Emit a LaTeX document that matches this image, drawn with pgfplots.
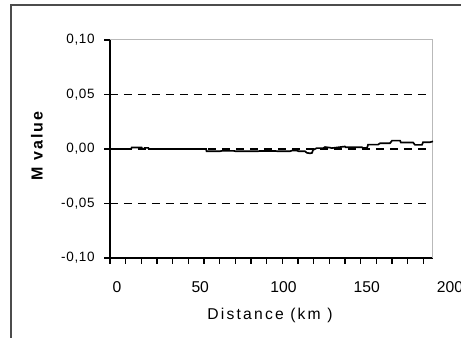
\documentclass[border=0pt]{standalone}
\usepackage{pgfplots}
\pgfplotsset{compat=1.18}
\usepackage{fontspec}
\setmainfont{Liberation Sans}
\begin{document}
\begin{tikzpicture}
\useasboundingbox (0pt,0pt) rectangle (276.6pt,202.8pt);
\draw[line width=1.1pt, black!70] (6.6pt,-10pt) -- (6.6pt,199.8pt) -- (290pt,199.8pt);
\begin{axis}[
  at={(66pt,48pt)}, anchor=south west,
  scale only axis, width=193.8pt, height=130.8pt,
  xmin=-4.2, xmax=189.8, ymin=-0.1, ymax=0.1,
  axis x line*=bottom, axis y line*=left,
  axis line style={black, line width=1.1pt},
  clip=false,
  xtick={-4.2,5.21,14.62,24.03,33.44,42.85,52.26,61.67,71.08,80.49,89.9,99.31,108.72,118.13,127.54,136.95,146.36,155.77,165.18,174.59,184.0},
  xticklabels={},
  ytick={-0.1,-0.05,0,0.05,0.1},
  yticklabels={},
  tick align=outside, major tick length=3.5pt,
  tick style={black, line width=0.8pt},
]
\draw[gray!55, line width=0.6pt] (rel axis cs:0,1) -- (rel axis cs:1,1) -- (rel axis cs:1,0);
\addplot[black, line width=0.8pt, dash pattern=on 4.8pt off 3.6pt] coordinates {(-4.2,0.05) (188,0.05)};
\addplot[black, line width=0.8pt, dash pattern=on 4.8pt off 3.6pt] coordinates {(-4.2,0) (188,0)};
\addplot[black, line width=0.8pt, dash pattern=on 4.8pt off 3.6pt] coordinates {(-4.2,-0.05) (188,-0.05)};
\addplot[black, line width=1pt, mark=none] coordinates {
(-4.2,0) (8.5,0) (8.8,0.0013) (14.8,0.0013) (15.2,0) (16.4,0) (16.6,0.001) (18.8,0.001) (19.1,0)
(53.5,0) (53.8,-0.002) (62,-0.002) (63,-0.0017) (70,-0.0017) (71,-0.002) (85,-0.002) (86,-0.0018) (95,-0.0018) (96,-0.002) (104,-0.002) (105,-0.0015) (108,-0.0015) (109,-0.002) (112.9,-0.002)
(114,-0.0035) (116,-0.004) (117.2,-0.0035) (117.7,-0.001) (119,0) (120,0.0008) (124,0.0008) (124.9,0.0018) (128,0.0012) (129,0.0008) (136.9,0.0023)
(137.2,0.0016) (147.1,0.0016) (147.7,0.001) (150.2,0.001) (150.8,0.004) (156.8,0.004) (158,0.0053) (164,0.0053) (165.2,0.0077) (170,0.0077) (170.5,0.006) (177.8,0.006) (179,0.0038) (183.2,0.0038) (183.8,0.0062) (188,0.0062) (189.8,0.007)
};
\pgfplotsinvokeforeach{0,50,100,150,200}{
  \node[font=\fontsize{9.4}{11}\selectfont, anchor=center, inner sep=0pt] at (axis cs:#1,-0.1) [yshift=-17.4pt] {#1};
}
\node[font=\fontsize{8.1}{9}\selectfont, anchor=east, inner sep=0pt] at (axis cs:-4.2,0.1) [xshift=-9pt] {\addfontfeature{LetterSpace=5}0,10};
\node[font=\fontsize{8.1}{9}\selectfont, anchor=east, inner sep=0pt] at (axis cs:-4.2,0.05) [xshift=-9pt] {\addfontfeature{LetterSpace=5}0,05};
\node[font=\fontsize{8.1}{9}\selectfont, anchor=east, inner sep=0pt] at (axis cs:-4.2,0) [xshift=-9pt] {\addfontfeature{LetterSpace=5}0,00};
\node[font=\fontsize{8.1}{9}\selectfont, anchor=east, inner sep=0pt] at (axis cs:-4.2,-0.05) [xshift=-9pt] {\addfontfeature{LetterSpace=5}-0,05};
\node[font=\fontsize{8.1}{9}\selectfont, anchor=east, inner sep=0pt] at (axis cs:-4.2,-0.1) [xshift=-9pt] {\addfontfeature{LetterSpace=5}-0,10};
\end{axis}
\node[font=\bfseries\fontsize{9.6}{11}\selectfont, rotate=90, anchor=center, inner sep=0pt] at (22.2pt,115.2pt) {\addfontfeature{LetterSpace=12}M value};
\node[font=\fontsize{9.4}{11}\selectfont, anchor=center, inner sep=0pt] at (162pt,13.8pt) {\addfontfeature{LetterSpace=14}Distance (km )};
\end{tikzpicture}
\end{document}
